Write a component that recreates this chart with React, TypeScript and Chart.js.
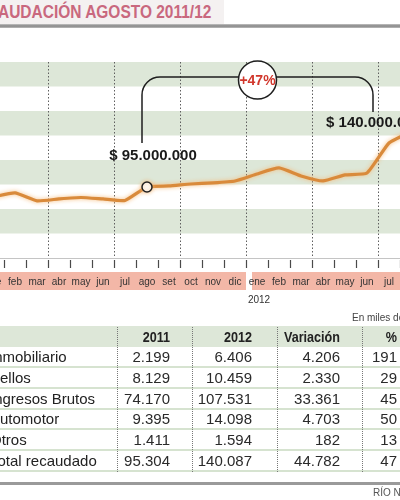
import React, { useEffect, useRef } from "react";
import { Chart, registerables } from "chart.js";

Chart.register(...registerables);

// ---------- data ----------
const MONTHS = ["ene", "feb", "mar", "abr", "may", "jun", "jul", "ago", "set", "oct", "nov", "dic", "ene", "feb", "mar", "abr", "may", "jun", "jul", "ago"];
// monthly collection, millions of pesos
const REVENUE = [86.8, 90.1, 83.6, 85.2, 86.4, 85.2, 84.0, 95.0, 95.8, 97.4, 98.3, 99.9, 105.6, 110.5, 104.0, 99.9, 104.8, 106.4, 130.9, 140.0];
const START_INDEX = 7; // ago 2011
const END_INDEX = 19; // ago 2012
const YEAR_START_INDEX = 12; // ene 2012
const START_LABEL = "$ 95.000.000";
const END_LABEL = "$ 140.000.000";
const CHANGE_LABEL = "+47%";
const YEAR_LABEL = "2012";
const Y_MIN = 37;
const Y_MAX = 197;
const Y_STEP = 20;

const TITLE = "AUDACIÓN AGOSTO 2011/12";
const UNITS_NOTE = "En miles de pesos";
const SOURCE = "RÍO NEGRO";

const TABLE_HEAD = ["2011", "2012", "Variación", "%"];
const ROW_LABELS = ["Inmobiliario", "Sellos", "Ingresos Brutos", "Automotor", "Otros", "Total recaudado"];
const VALUES_2011 = ["2.199", "8.129", "74.170", "9.395", "1.411", "95.304"];
const VALUES_2012 = ["6.406", "10.459", "107.531", "14.098", "1.594", "140.087"];
const VARIATION = ["4.206", "2.330", "33.361", "4.703", "182", "44.782"];
const PERCENT = ["191", "29", "45", "50", "13", "47"];

// ---------- styles ----------
const NARROW = "'Liberation Sans Narrow', 'Arial Narrow', 'Liberation Sans', sans-serif";
const SANS = "'Liberation Sans', Arial, sans-serif";
const GREEN = "#dde7d8";
const PINK = "#f3b7a7";
const LINE = "#d98a3b";

const chartPlugin = {
  id: "decor",
  beforeDraw(chart: any) {
    const { ctx, chartArea: a, scales } = chart;
    const x = scales.x;
    const y = scales.y;
    ctx.save();
    let k = 0;
    for (let v = y.min; v < y.max - 1e-6; v += Y_STEP, k++) {
      if (k % 2 === 1) {
        const top = y.getPixelForValue(v + Y_STEP);
        const bot = y.getPixelForValue(v);
        ctx.fillStyle = GREEN;
        ctx.fillRect(a.left, top, a.right - a.left, bot - top);
      }
    }
    // month band
    const barTop = a.bottom + 14;
    const barH = 18;
    ctx.fillStyle = PINK;
    ctx.fillRect(a.left, barTop, a.right - a.left, barH);
    const half = (x.getPixelForValue(1) - x.getPixelForValue(0)) / 2;
    const gx = x.getPixelForValue(YEAR_START_INDEX) - half;
    ctx.fillStyle = "#ffffff";
    ctx.fillRect(gx, barTop, 6, barH);
    // month boundary tick marks
    ctx.strokeStyle = "#4a4a4a";
    ctx.lineWidth = 1.2;
    for (let i = 0; i <= MONTHS.length; i++) {
      const tx = Math.round(x.getPixelForValue(i) - half) + 0.5;
      ctx.beginPath();
      ctx.moveTo(tx, a.bottom + 2);
      ctx.lineTo(tx, a.bottom + 10);
      ctx.stroke();
    }
    ctx.restore();
  },
  beforeDatasetsDraw(chart: any) {
    const ctx = chart.ctx;
    ctx.save();
    ctx.shadowColor = "rgba(245,185,120,0.95)";
    ctx.shadowBlur = 4;
  },
  afterDatasetsDraw(chart: any) {
    chart.ctx.restore();
  },
  afterDraw(chart: any) {
    const { ctx, chartArea: a, scales } = chart;
    const x = scales.x;
    const y = scales.y;
    const x0 = x.getPixelForValue(START_INDEX);
    const p0 = y.getPixelForValue(REVENUE[START_INDEX]);
    const x1 = x.getPixelForValue(END_INDEX);
    const lx = x0 - 5;
    const rx = x1 - 38;
    const hy = a.top + 15;
    const r = 18;
    ctx.save();
    ctx.strokeStyle = "#1e1e1e";
    ctx.lineWidth = 1.5;
    ctx.beginPath();
    ctx.moveTo(lx, p0 - 44);
    ctx.arcTo(lx, hy, lx + r, hy, r);
    ctx.arcTo(rx, hy, rx, hy + r, r);
    ctx.lineTo(rx, a.top + 50);
    ctx.stroke();

    // change circle
    const cx = (lx + rx) / 2;
    const cy = a.top + 18;
    ctx.beginPath();
    ctx.arc(cx, cy, 19, 0, Math.PI * 2);
    ctx.fillStyle = "#ffffff";
    ctx.fill();
    ctx.stroke();
    ctx.fillStyle = "#d1372c";
    ctx.font = `bold 14px ${SANS}`;
    ctx.textAlign = "center";
    ctx.textBaseline = "middle";
    ctx.fillText(CHANGE_LABEL, cx, cy + 1);

    // value labels
    ctx.fillStyle = "#1a1a1a";
    ctx.font = `bold 15px ${SANS}`;
    ctx.fillText(START_LABEL, x0 + 6, p0 - 31);
    ctx.fillText(END_LABEL, x1 - 37, a.top + 61);

    // year label
    ctx.fillStyle = "#333";
    ctx.font = `10px ${NARROW}`;
    ctx.fillText(YEAR_LABEL, x.getPixelForValue(YEAR_START_INDEX) + 2, a.bottom + 42);
    ctx.restore();
  },
};

function LineChart() {
  const ref = useRef<HTMLCanvasElement | null>(null);
  useEffect(() => {
    if (!ref.current) return;
    const chart = new Chart(ref.current, {
      type: "line",
      data: {
        labels: MONTHS,
        datasets: [
          {
            data: REVENUE,
            borderColor: LINE,
            borderWidth: 3.2,
            tension: 0.15,
            fill: false,
            pointRadius: (c: any) => (c.dataIndex === START_INDEX ? 5 : 0),
            pointBackgroundColor: "#ffffff",
            pointBorderColor: "#222",
            pointBorderWidth: 1.5,
          },
        ],
      },
      options: {
        animation: false,
        responsive: false,
        maintainAspectRatio: false,
        devicePixelRatio: 1,
        layout: { padding: { top: 32, left: 0, right: 0, bottom: 0 } },
        plugins: { legend: { display: false }, tooltip: { enabled: false } },
        scales: {
          x: {
            type: "category",
            offset: true,
            grid: {
              offset: true,
              drawOnChartArea: true,
              drawTicks: true,
              tickLength: 10,
              tickColor: "rgba(0,0,0,0)",
              color: (c: any) => (typeof c.index === "number" && c.index > 0 && c.index % 3 === 0 ? "#5f5f5f" : "rgba(0,0,0,0)"),
              lineWidth: 1,
            },
            border: { display: true, color: "#c4c4c4", width: 1, dash: [1.5, 2] },
            ticks: {
              font: { family: NARROW, size: 10 },
              color: "#333",
              padding: 8,
              autoSkip: false,
              maxRotation: 0,
            },
            afterFit: (s: any) => {
              s.height = 57;
              s.paddingLeft = 0;
              s.paddingRight = 0;
            },
          },
          y: {
            display: false,
            min: Y_MIN,
            max: Y_MAX,
          },
        },
      },
      plugins: [chartPlugin],
    } as any);
    return () => chart.destroy();
  }, []);
  return (
    <canvas
      ref={ref}
      width={440}
      height={285}
      style={{ position: "absolute", left: -18, top: 30, width: 440, height: 285 }}
    />
  );
}

const COL_RIGHT = [170, 252, 340, 397];
const COL_SEP = [117, 192, 277, 362];

export default function App() {
  const rowTop = (i: number) => 347 + i * 20.8;
  const cols = [VALUES_2011, VALUES_2012, VARIATION, PERCENT];
  return (
    <div
      style={{
        position: "fixed",
        left: 0,
        top: 0,
        width: 400,
        height: 500,
        overflow: "hidden",
        background: "#fff",
        fontFamily: NARROW,
        color: "#222",
      }}
    >
      {/* title bar */}
      <div style={{ position: "absolute", left: 0, top: 0, width: 224, height: 24, background: "#f4f1f1" }} />
      <div
        style={{
          position: "absolute",
          left: -2,
          top: 0,
          height: 24,
          lineHeight: "24px",
          fontSize: 18,
          fontWeight: "bold",
          fontFamily: SANS,
          color: "#c9687e",
          whiteSpace: "nowrap",
          transform: "scaleX(0.86)",
          transformOrigin: "left center",
        }}
      >
        {TITLE}
      </div>
      <div
        style={{
          position: "absolute",
          left: 0,
          top: 24,
          width: 400,
          height: 4,
          background: "linear-gradient(#c4c4c4, #868686, #bdbdbd)",
        }}
      />

      <LineChart />

      <div
        style={{
          position: "absolute",
          left: 352,
          top: 312,
          fontSize: 10,
          lineHeight: "12px",
          color: "#444",
          whiteSpace: "nowrap",
        }}
      >
        {UNITS_NOTE}
      </div>

      {/* table */}
      <div style={{ position: "absolute", left: 0, top: 326, width: 400, height: 21, background: GREEN }} />
      {TABLE_HEAD.map((h, j) => (
        <div
          key={"h" + j}
          style={{
            position: "absolute",
            left: COL_RIGHT[j] - 100,
            width: 100,
            top: 326,
            height: 21,
            lineHeight: "21px",
            fontSize: 15,
            fontWeight: "bold",
            fontFamily: SANS,
            textAlign: "right",
            color: "#222",
            transform: "scaleX(0.84)",
            transformOrigin: "right center",
          }}
        >
          {h}
        </div>
      ))}
      {ROW_LABELS.map((lab, i) => (
        <React.Fragment key={"r" + i}>
          <div
            style={{
              position: "absolute",
              left: -10,
              top: rowTop(i),
              height: 20,
              lineHeight: "20px",
              fontSize: 15,
              whiteSpace: "nowrap",
              color: "#222",
            }}
          >
            {lab}
          </div>
          {cols.map((col, j) => (
            <div
              key={"c" + j}
              style={{
                position: "absolute",
                left: COL_RIGHT[j] - 100,
                width: 100,
                top: rowTop(i),
                height: 20,
                lineHeight: "20px",
                fontSize: 15,
                textAlign: "right",
                color: "#2a2a2a",
              }}
            >
              {col[i]}
            </div>
          ))}
          <div
            style={{
              position: "absolute",
              left: 0,
              top: rowTop(i) + 19,
              width: 400,
              height: 2,
              background: "#d6e3d0",
            }}
          />
        </React.Fragment>
      ))}
      {COL_SEP.map((sx, j) => (
        <div
          key={"s" + j}
          style={{
            position: "absolute",
            left: sx,
            top: 327,
            width: 0,
            height: 145,
            borderLeft: "1px dotted #777",
          }}
        />
      ))}
      <div style={{ position: "absolute", left: 0, top: 482, width: 400, height: 3, background: "#9a9a9a" }} />
      <div
        style={{
          position: "absolute",
          left: 373,
          top: 487,
          fontSize: 10,
          lineHeight: "12px",
          color: "#555",
          whiteSpace: "nowrap",
        }}
      >
        {SOURCE}
      </div>
    </div>
  );
}
